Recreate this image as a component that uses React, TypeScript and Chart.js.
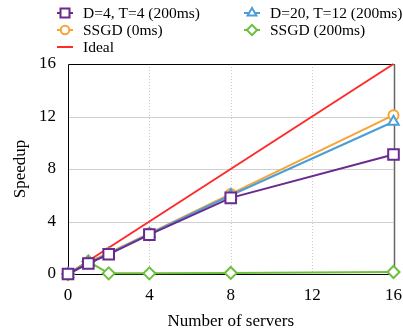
import { useEffect, useRef } from 'react';
import { Chart, registerables } from 'chart.js';
import { drawPoint } from 'chart.js/helpers';

Chart.register(...registerables);

const servers = [0, 1, 2, 4, 8, 16];
const dt4 = [0, 0.8, 1.5, 3.0, 5.8, 9.1];
const dt20 = [0, 0.85, 1.55, 3.05, 6.0, 11.6];
const ssgd0 = [0, 0.9, 1.6, 3.1, 6.1, 12.1];
const ssgd200 = [0, 0.95, 0.05, 0.05, 0.08, 0.15];
const idealX = [0, 16];
const idealY = [0, 16];
const xTicks = [0, 4, 8, 12, 16];
const yTicks = [0, 4, 8, 12, 16];

const FONT = "'Liberation Serif', 'Times New Roman', serif";

const pts = (xs: number[], ys: number[]) => xs.map((x, i) => ({ x, y: ys[i] }));

const gridPlugin = {
  id: 'gridFrame',
  beforeDatasetsDraw(chart: any) {
    const { ctx, chartArea: a, scales } = chart;
    ctx.save();
    ctx.lineWidth = 1;
    ctx.strokeStyle = '#cfcfcf';
    yTicks.forEach((v) => {
      if (v === 0 || v === 16) return;
      const y = Math.round(scales.y.getPixelForValue(v)) + 0.5;
      ctx.beginPath();
      ctx.moveTo(a.left, y);
      ctx.lineTo(a.right, y);
      ctx.stroke();
    });
    ctx.strokeStyle = '#cccccc';
    ctx.setLineDash([1, 2]);
    xTicks.forEach((v) => {
      if (v === 0 || v === 16) return;
      const x = Math.round(scales.x.getPixelForValue(v)) + 0.5;
      ctx.beginPath();
      ctx.moveTo(x, a.top);
      ctx.lineTo(x, a.bottom);
      ctx.stroke();
    });
    ctx.setLineDash([]);
    const L = Math.round(a.left) + 0.5;
    const R = Math.round(a.right) + 0.5;
    const T = Math.round(a.top) + 0.5;
    const B = Math.round(a.bottom) + 0.5;
    ctx.strokeStyle = '#666';
    ctx.lineWidth = 1.5;
    ctx.beginPath();
    ctx.moveTo(R, T);
    ctx.lineTo(R, B);
    ctx.stroke();
    ctx.strokeStyle = '#000';
    ctx.lineWidth = 1;
    ctx.beginPath();
    ctx.moveTo(R, T);
    ctx.lineTo(L, T);
    ctx.lineTo(L, B);
    ctx.lineTo(R, B);
    ctx.stroke();
    ctx.restore();
  },
};

const legendItems = [
  { ds: 0, x: 65, y: 13 },
  { ds: 1, x: 252, y: 13 },
  { ds: 2, x: 65, y: 30 },
  { ds: 3, x: 252, y: 30 },
  { ds: 4, x: 65, y: 47 },
];

const legendPlugin = {
  id: 'customLegend',
  afterDraw(chart: any) {
    const { ctx } = chart;
    ctx.save();
    ctx.font = `15.5px ${FONT}`;
    ctx.textBaseline = 'middle';
    ctx.fillStyle = '#000';
    legendItems.forEach((it) => {
      const ds = chart.data.datasets[it.ds];
      ctx.strokeStyle = ds.borderColor;
      ctx.lineWidth = 2;
      ctx.beginPath();
      ctx.moveTo(it.x - 8, it.y);
      ctx.lineTo(it.x + 8, it.y);
      ctx.stroke();
      if (ds.pointRadius > 0) {
        ctx.fillStyle = '#fff';
        ctx.strokeStyle = ds.borderColor;
        ctx.lineWidth = 2;
        drawPoint(ctx, { pointStyle: ds.pointStyle, radius: ds.pointRadius * 0.85, borderWidth: 2, rotation: 0 } as any, it.x, it.y);
      }
      ctx.fillStyle = '#000';
      ctx.fillText(ds.label, it.x + 18, it.y + 1);
    });
    ctx.restore();
  },
};

export default function App() {
  const ref = useRef<HTMLCanvasElement>(null);
  useEffect(() => {
    const tickFont = { family: FONT, size: 17 };
    const titleFont = { family: FONT, size: 17, lineHeight: 1.1 };
    const common = { borderWidth: 2, pointBorderWidth: 2, pointBackgroundColor: '#fff', fill: false, tension: 0, clip: false as any };
    const chart = new Chart(ref.current!, {
      type: 'line',
      data: {
        datasets: [
          { ...common, label: 'D=4, T=4 (200ms)', data: pts(servers, dt4), borderColor: '#6a2a8e', pointStyle: 'rect', pointRadius: 7.5 },
          { ...common, label: 'D=20, T=12 (200ms)', data: pts(servers, dt20), borderColor: '#4a9fd8', pointStyle: 'triangle', pointRadius: 6 },
          { ...common, label: 'SSGD (0ms)', data: pts(servers, ssgd0), borderColor: '#f7a434', pointStyle: 'circle', pointRadius: 5 },
          { ...common, label: 'SSGD (200ms)', data: pts(servers, ssgd200), borderColor: '#6cbf3c', pointStyle: 'rectRot', pointRadius: 6 },
          { ...common, label: 'Ideal', data: pts(idealX, idealY), borderColor: '#ff2a2a', pointRadius: 0 },
        ] as any,
      },
      options: {
        animation: false,
        responsive: false,
        maintainAspectRatio: false,
        layout: { padding: { top: 64, right: 0, left: 6, bottom: 0 } },
        plugins: { legend: { display: false }, tooltip: { enabled: false } },
        scales: {
          x: {
            type: 'linear',
            min: 0,
            max: 16,
            afterBuildTicks: (s: any) => { s.ticks = xTicks.map((v) => ({ value: v })); },
            afterFit: (s: any) => { s.height = 57; s.paddingRight = 9; },
            grid: { display: false },
            border: { display: false },
            ticks: { font: tickFont, color: '#000', padding: 3 },
            title: { display: true, text: 'Number of servers', font: titleFont, color: '#000', padding: { top: 6, bottom: 0 } },
          },
          y: {
            type: 'linear',
            min: 0,
            max: 16,
            afterBuildTicks: (s: any) => { s.ticks = yTicks.map((v) => ({ value: v })); },
            afterFit: (s: any) => { s.width = 62; },
            grid: { display: false },
            border: { display: false },
            ticks: { font: tickFont, color: '#000', padding: 4 },
            title: { display: true, text: 'Speedup', font: tickFont, color: '#000', padding: { top: 4, bottom: 8 } },
          },
        },
      },
      plugins: [gridPlugin, legendPlugin],
    });
    return () => chart.destroy();
  }, []);
  return (
    <div style={{ position: 'fixed', left: 0, top: 0, width: 403, height: 331 }}>
      <canvas ref={ref} width={403} height={331} style={{ width: 403, height: 331 }} />
    </div>
  );
}
